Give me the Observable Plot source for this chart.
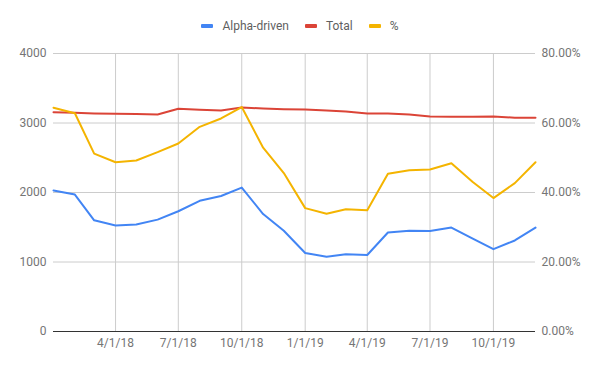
<!DOCTYPE html>
<html>
<head>
<meta charset="utf-8">
<script src="https://cdn.jsdelivr.net/npm/d3@7"></script>
<script src="https://cdn.jsdelivr.net/npm/@observablehq/plot@0.6"></script>
<style>
  body { margin: 0; background: #fff; font-family: Roboto, "Noto Sans", sans-serif; }
  #legend { height: 40px; display: flex; justify-content: center; align-items: flex-end; font-size: 12px; color: #5f5f5f; }
  #legend .item { display: flex; align-items: center; height: 14px; margin: 0 8px 7px 8px; }
  #legend .sw { width: 12px; height: 4px; border-radius: 1px; margin-right: 9px; }
</style>
</head>
<body>
<div id="legend"></div>
<div id="chart"></div>
<script>
const months = ["2018-01-01","2018-02-01","2018-03-01","2018-04-01","2018-05-01","2018-06-01","2018-07-01","2018-08-01","2018-09-01","2018-10-01","2018-11-01","2018-12-01","2019-01-01","2019-02-01","2019-03-01","2019-04-01","2019-05-01","2019-06-01","2019-07-01","2019-08-01","2019-09-01","2019-10-01","2019-11-01","2019-12-01"];
const alphaDriven = [2030, 1970, 1600, 1525, 1540, 1610, 1730, 1880, 1950, 2070, 1690, 1450, 1130, 1075, 1110, 1100, 1425, 1450, 1445, 1495, 1335, 1185, 1310, 1495];
const total = [3156, 3146, 3137, 3132, 3130, 3122, 3204, 3190, 3180, 3222, 3209, 3199, 3194, 3180, 3165, 3137, 3137, 3122, 3094, 3090, 3090, 3094, 3075, 3075];
const pct = [64.4, 62.8, 51.2, 48.7, 49.2, 51.6, 54.1, 58.9, 61.3, 64.6, 52.9, 45.6, 35.5, 33.9, 35.2, 34.9, 45.4, 46.4, 46.6, 48.4, 43.0, 38.4, 42.7, 48.7];
const leftTicks = [0, 1000, 2000, 3000, 4000];
const rightMax = 80; // percent at top of right axis
const leftMax = 4000;
const quarterTicks = ["2018-04-01","2018-07-01","2018-10-01","2019-01-01","2019-04-01","2019-07-01","2019-10-01"];
const seriesNames = ["Alpha-driven", "Total", "%"];
const colors = ["#4285F4", "#DB4437", "#F4B400"];

const parse = d3.utcParse("%Y-%m-%d");
const data = months.map((m, i) => ({date: parse(m), alpha: alphaDriven[i], total: total[i], pct: pct[i]}));
const qDates = quarterTicks.map(parse);
const fmtDate = d => `${d.getUTCMonth() + 1}/${d.getUTCDate()}/${String(d.getUTCFullYear()).slice(2)}`;
const toLeft = p => p / rightMax * leftMax;

const legend = document.getElementById("legend");
seriesNames.forEach((n, i) => {
  const it = document.createElement("div");
  it.className = "item";
  it.innerHTML = `<span class="sw" style="background:${colors[i]}"></span><span>${n}</span>`;
  legend.appendChild(it);
});

const chart = Plot.plot({
  width: 600,
  height: 331,
  marginTop: 13,
  marginBottom: 40,
  marginLeft: 53,
  marginRight: 65,
  style: {fontFamily: "Roboto, sans-serif", fontSize: "12px", color: "#757575", background: "#fff"},
  x: {type: "utc", domain: [data[0].date, data[data.length - 1].date]},
  y: {domain: [0, leftMax]},
  marks: [
    Plot.ruleY(leftTicks.filter(t => t > 0), {stroke: "#cccccc", strokeWidth: 1}),
    Plot.ruleX(qDates, {stroke: "#cccccc", strokeWidth: 1}),
    Plot.axisY(leftTicks, {anchor: "left", tickSize: 0, tickPadding: 7, label: null, fill: "#757575",
      tickFormat: d => String(d)}),
    Plot.axisY(leftTicks, {anchor: "right", tickSize: 0, tickPadding: 6, label: null, fill: "#757575",
      tickFormat: d => (d / leftMax * rightMax).toFixed(2) + "%"}),
    Plot.axisX(qDates, {anchor: "bottom", tickSize: 0, tickPadding: 7, label: null, fill: "#757575", tickFormat: fmtDate}),
    Plot.ruleY([0], {stroke: "#333333", strokeWidth: 1}),
    Plot.line(data, {x: "date", y: "alpha", stroke: colors[0], strokeWidth: 2}),
    Plot.line(data, {x: "date", y: "total", stroke: colors[1], strokeWidth: 2}),
    Plot.line(data, {x: "date", y: d => toLeft(d.pct), stroke: colors[2], strokeWidth: 2})
  ]
});
document.getElementById("chart").appendChild(chart);
</script>
</body>
</html>
